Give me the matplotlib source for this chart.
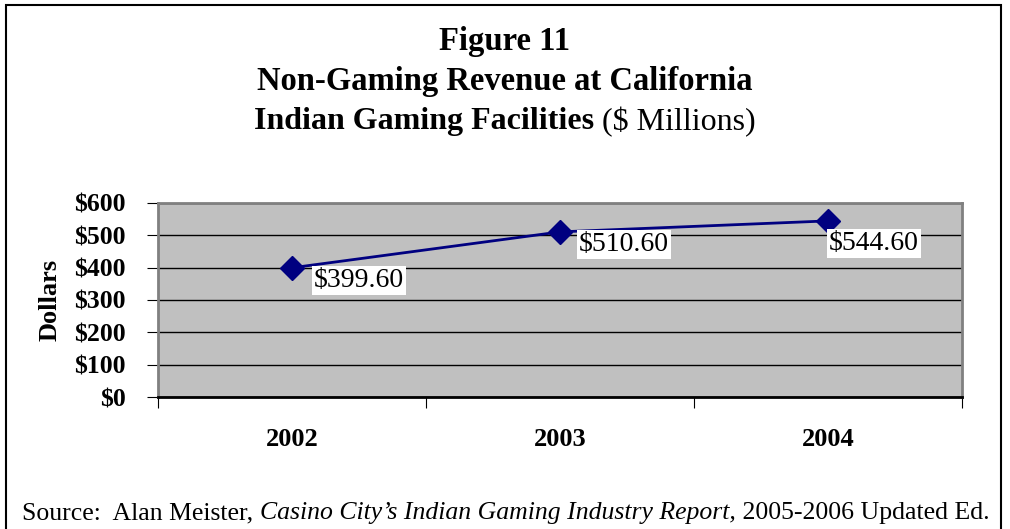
import matplotlib.pyplot as plt
from matplotlib.patches import Rectangle

plt.rcParams['font.family'] = ['Liberation Serif', 'DejaVu Serif']

# data
years = ['2002', '2003', '2004']
revenue = [399.60, 510.60, 544.60]
yticks = [0, 100, 200, 300, 400, 500, 600]

fig = plt.figure(figsize=(10.10, 5.29), dpi=100)
fig.patches.append(Rectangle((0.006, -0.01), 0.985, 1.0, transform=fig.transFigure,
                             fill=False, edgecolor='black', linewidth=1.5))

ax = fig.add_axes([0.1564, 0.2495, 0.7961, 0.3668])
ax.set_facecolor('#C0C0C0')

x = list(range(len(years)))
ax.plot(x, revenue, color='#000080', linewidth=2, marker='D', markersize=12, zorder=3)

# data labels
label_offsets = [(22, 0), (19, 0), (1, -10)]
for xi, v, off in zip(x, revenue, label_offsets):
    ax.annotate(f'${v:.2f}', (xi, v), xytext=off, textcoords='offset pixels',
                ha='left', va='top', fontsize=20,
                bbox=dict(boxstyle='square,pad=0.08', facecolor='white', edgecolor='none'),
                zorder=4)

ax.set_xlim(-0.5, 2.5)
ax.set_ylim(0, 600)
ax.set_yticks(yticks)
ax.set_yticklabels([f'${t}' for t in yticks], fontsize=18.5, fontweight='bold')
ax.set_xticks([-0.5, 0.5, 1.5, 2.5])
ax.set_xticklabels([])
ax.set_xticks(x, minor=True)
ax.set_xticklabels(years, minor=True, fontsize=19, fontweight='bold')
ax.tick_params(axis='x', which='minor', length=0, pad=22)
ax.tick_params(axis='x', which='major', length=8, direction='out', color='black')
ax.tick_params(axis='y', length=8, direction='out', color='black', pad=15)

ax.grid(axis='y', color='black', linewidth=1)
ax.set_axisbelow(True)
for s in ax.spines.values():
    s.set_color('#808080')
    s.set_linewidth(2)
ax.spines['bottom'].set_color('black')

ax.set_ylabel('Dollars', fontsize=19, fontweight='bold')
ax.yaxis.set_label_coords(-0.12, 0.5)

renderer = fig.canvas.get_renderer()


def chained(parts, y, x0=None, center=None, size=16):
    # draw text pieces side by side; each part is (text, kwargs)
    widths = []
    items = []
    for txt, kw in parts:
        t = fig.text(0, y, txt, ha='left', va='center', fontsize=size, **kw)
        w = t.get_window_extent(renderer).width / fig.bbox.width
        items.append(t)
        widths.append(w)
    start = x0 if x0 is not None else center - sum(widths) / 2
    for t, w in zip(items, widths):
        t.set_x(start)
        start += w


# titles
fig.text(0.5, 0.922, 'Figure 11', ha='center', va='center', fontsize=23.5, fontweight='bold')
fig.text(0.5, 0.846, 'Non-Gaming Revenue at California', ha='center', va='center',
         fontsize=23.5, fontweight='bold')
chained([('Indian Gaming Facilities', dict(fontweight='bold')),
         (' ($ Millions)', {})], 0.770, center=0.5, size=23)

chained([('Source:  Alan Meister, ', {}),
         ('Casino City\u2019s Indian Gaming Industry Report,', dict(style='italic')),
         (' 2005-2006 Updated Ed.', {})], 0.030, x0=0.022, size=18.5)

fig.savefig('out.png', dpi=100)
